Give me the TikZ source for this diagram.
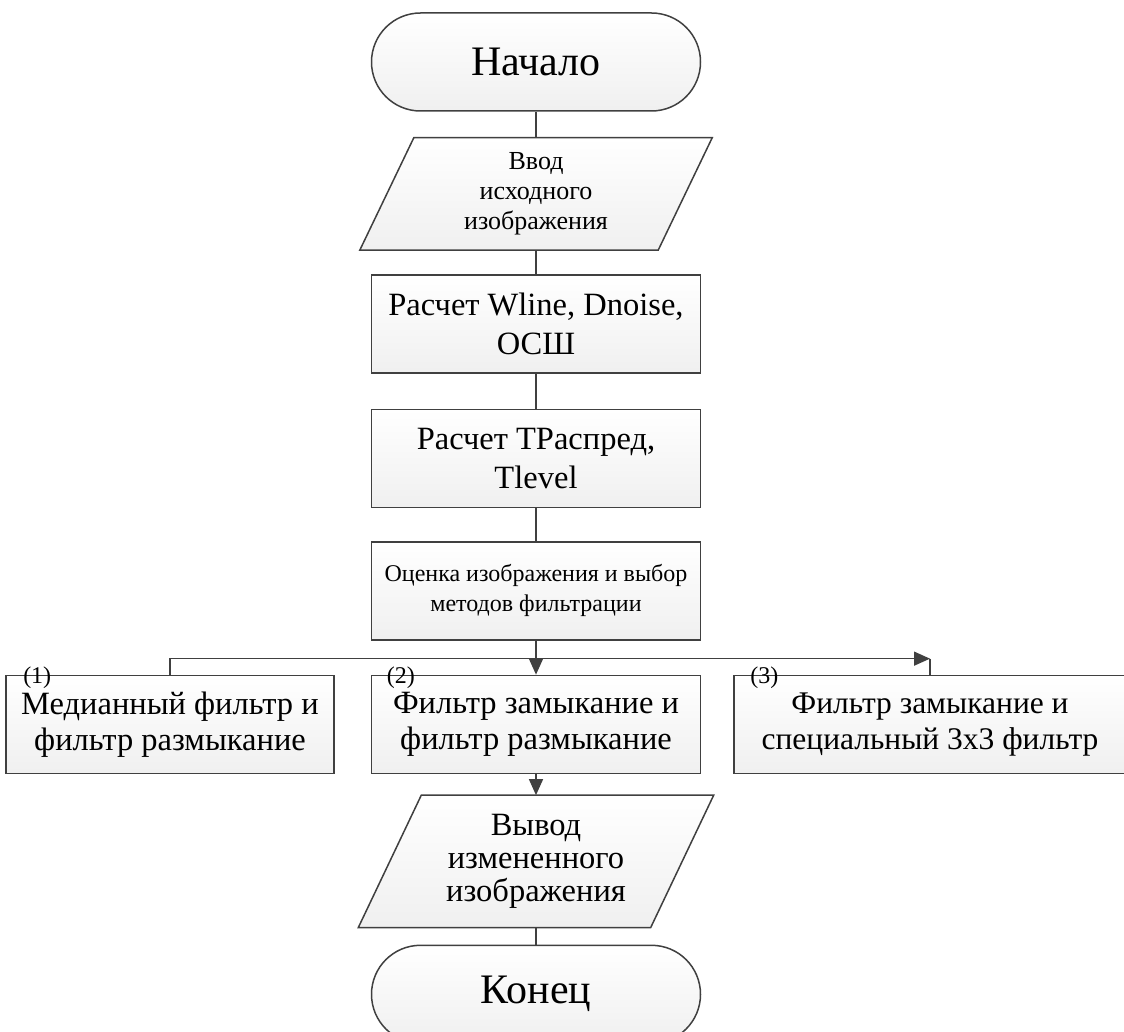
\documentclass[tikz,border=0pt]{standalone}
\usepackage{fontspec}
\setmainfont{Liberation Serif}
\usetikzlibrary{arrows.meta,positioning,calc,backgrounds}
\definecolor{lncol}{HTML}{404040}
\tikzset{
  blk/.style={draw=lncol,line width=1.5pt,rectangle,top color=white,bottom color=gray!12,minimum width=329pt,minimum height=98pt,inner sep=0pt,align=center,font=\fontsize{32.5}{39}\selectfont},
  termblk/.style={blk,rounded corners=49pt,font=\fontsize{42}{48}\selectfont},
  iotxt/.style={rectangle,minimum width=298pt,minimum height=112pt,inner sep=0pt,align=center,font=\fontsize{26}{30}\selectfont},
  ioshape/.style={draw=lncol,line width=1.5pt,top color=white,bottom color=gray!12},
  fltblk/.style={blk,font=\fontsize{32.5}{36}\selectfont},
  numlbl/.style={font=\fontsize{24}{24}\selectfont,inner sep=0pt},
  ln/.style={draw=lncol,line width=1.5pt},
  arr/.style={ln,-{Triangle[length=16pt,width=14pt]}}
}
\begin{document}
\begin{tikzpicture}[x=1pt,y=1pt]
  \useasboundingbox (0,0) rectangle (1124,-1032);
  \node[termblk] (start) at (536,-62) {Начало};
  \node[iotxt, below=26pt of start] (in) {Ввод\\исходного\\изображения};
  \node[blk, below=24pt of in] (wline) {Расчет Wline, Dnoise,\\ОСШ};
  \node[blk, below=35pt of wline] (tr) {Расчет ТРаспред,\\Tlevel};
  \node[blk, below=33pt of tr, font=\fontsize{24}{30}\selectfont] (eval) {Оценка изображения и выбор\\методов фильтрации};
  \node[fltblk, below=34pt of eval] (f2) {Фильтр замыкание и\\фильтр размыкание};
  \node[fltblk, left=36pt of f2, minimum width=328pt] (f1) {Медианный фильтр и\\фильтр размыкание};
  \node[fltblk, right=32pt of f2, minimum width=392pt, font=\fontsize{31.5}{36}\selectfont] (f3) {Фильтр замыкание и\\специальный 3x3 фильтр};
  \node[iotxt, below=21pt of f2, minimum width=292pt, minimum height=132pt, font=\fontsize{32.5}{33}\selectfont] (out) {Вывод\\измененного\\изображения};
  \node[termblk, below=17pt of out] (stop) {Конец};

  % parallelograms behind the io text
  \begin{scope}[on background layer]
    \path[ioshape] ([xshift=27pt]in.north west) -- ([xshift=27pt]in.north east)
      -- ([xshift=-27pt]in.south east) -- ([xshift=-27pt]in.south west) -- cycle;
    \path[ioshape] ([xshift=31.5pt]out.north west) -- ([xshift=31.5pt]out.north east)
      -- ([xshift=-31.5pt]out.south east) -- ([xshift=-31.5pt]out.south west) -- cycle;
  \end{scope}

  % branch numbers
  \node[numlbl] (n1) at ([xshift=32pt,yshift=-3pt]f1.north west) {(1)};
  \node[numlbl] (n2) at ([xshift=30pt,yshift=-3pt]f2.north west) {(2)};
  \node[numlbl] (n3) at ([xshift=31pt,yshift=-3pt]f3.north west) {(3)};

  \draw[ln] (start) -- (in);
  \draw[ln] (in) -- (wline);
  \draw[ln] (wline) -- (tr);
  \draw[ln] (tr) -- (eval);
  \draw[arr] (eval) -- (f2);
  \coordinate[above=16pt of f3.north] (br3);
  \draw[arr] (f1.north) |- (br3);
  \draw[ln] (br3) -- (f3.north);
  \draw[arr] (f2) -- (out);
  \draw[ln] (out) -- (stop);
\end{tikzpicture}
\end{document}
